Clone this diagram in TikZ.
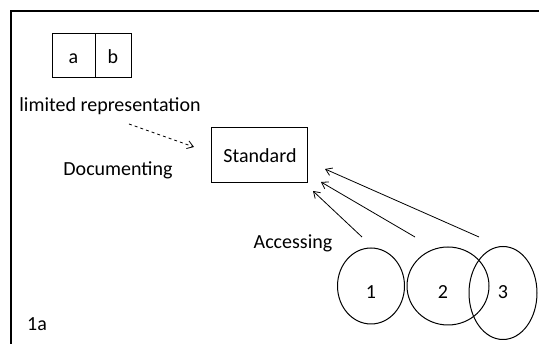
\documentclass[tikz,border=0pt]{standalone}
\usepackage{fontspec}
\setmainfont{Carlito}
\usetikzlibrary{arrows.meta}
\begin{document}
\begin{tikzpicture}[x=1pt,y=-1pt,
  lbl/.style={font=\fontsize{20}{24}\selectfont, inner sep=0pt, anchor=base},
  boxed/.style={draw, line width=1pt},
  conn/.style={line width=0.8pt, -{Straight Barb[length=6pt,width=8pt]}},
  blob/.style={draw, line width=1pt, ellipse}]
\useasboundingbox (0,0) rectangle (539,344);
\fill[white] (0,0) rectangle (539,344);
\draw[line width=1.5pt] (11,344) -- (11,11) -- (539,11);
% a|b box
\draw[boxed] (52,34) rectangle (131,78);
\draw[line width=1pt] (95,34) -- (95,78);
\node[lbl] (a) at (73.5,63.5) {a};
\node[lbl] (b) at (113,63.5) {b};
\node[lbl] (lim) at (110,112) {limited representation};
% standard
\draw[boxed] (211,128) rectangle (307,183);
\node[lbl] (std) at (260,163) {Standard};
\node[lbl] (doc) at (118,175.5) {Documenting};
\coordinate (d1) at (129,124);
\coordinate (d2) at (194,147);
\draw[conn, dashed] (d1) -- (d2);
\node[lbl] (acc) at (293,248.5) {Accessing};
% ellipses
\draw[line width=1pt] (371,286) ellipse [x radius=33.5, y radius=38];
\draw[line width=1pt] (448,286) ellipse [x radius=41, y radius=39];
\draw[line width=1pt] (503,293) ellipse [x radius=34, y radius=46.5];
\node[lbl] (n1) at (371,298.5) {1};
\node[lbl] (n2) at (443,298.5) {2};
\node[lbl] (n3) at (503,298.5) {3};
\coordinate (t1) at (362,237);
\coordinate (h1) at (313,191);
\coordinate (t2) at (415,237);
\coordinate (h2) at (321,182);
\coordinate (t3) at (479,237);
\coordinate (h3) at (325,169);
\draw[conn] (t1) -- (h1);
\draw[conn] (t2) -- (h2);
\draw[conn] (t3) -- (h3);
\node[lbl] (fig) at (37,331) {1a};
\end{tikzpicture}
\end{document}
